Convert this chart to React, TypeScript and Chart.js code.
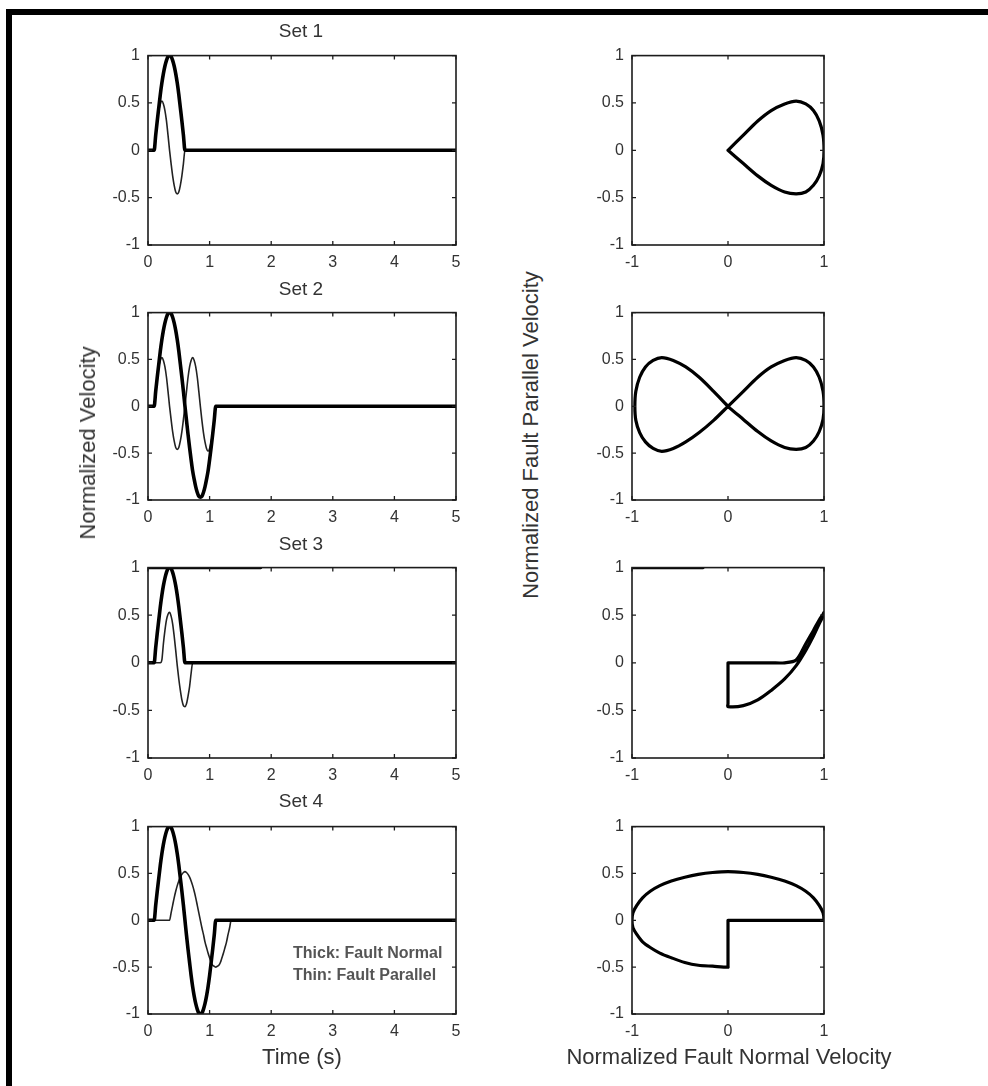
import React, { useEffect, useRef } from "react";
import { Chart, registerables } from "chart.js";

Chart.register(...registerables);

const FONT = '"Liberation Sans", Arial, Helvetica, sans-serif';

// ---------- tick labels ----------
const timeTicks = [0, 1, 2, 3, 4, 5];
const velocityTicks = [-1, -0.5, 0, 0.5, 1];
const normalTicks = [-1, 0, 1];

// ---------- Set 1 ----------
const set1Time = [0, 0.1, 0.125, 0.15, 0.175, 0.2, 0.225, 0.25, 0.275, 0.3, 0.325, 0.35, 0.375, 0.4, 0.425, 0.45, 0.475, 0.5, 0.525, 0.55, 0.575, 0.6, 5];
const set1Normal = [0, 0, 0.16, 0.31, 0.45, 0.59, 0.71, 0.81, 0.89, 0.95, 0.99, 1, 0.99, 0.95, 0.89, 0.81, 0.71, 0.59, 0.45, 0.31, 0.16, 0, 0];
const set1Parallel = [0, 0, 0.16, 0.31, 0.42, 0.49, 0.52, 0.49, 0.42, 0.31, 0.16, 0, -0.14, -0.27, -0.37, -0.44, -0.46, -0.44, -0.37, -0.27, -0.14, 0, 0];

// ---------- Set 2 ----------
const set2Time = [0, 0.1, 0.125, 0.15, 0.175, 0.2, 0.225, 0.25, 0.275, 0.3, 0.325, 0.35, 0.375, 0.4, 0.425, 0.45, 0.475, 0.5, 0.525, 0.55, 0.575, 0.6, 0.625, 0.65, 0.675, 0.7, 0.725, 0.75, 0.775, 0.8, 0.825, 0.85, 0.875, 0.9, 0.925, 0.95, 0.975, 1.0, 1.025, 1.05, 1.075, 1.1, 5];
const set2Normal = [0, 0, 0.16, 0.31, 0.45, 0.59, 0.71, 0.81, 0.89, 0.95, 0.99, 1, 0.99, 0.95, 0.89, 0.81, 0.71, 0.59, 0.45, 0.31, 0.16, 0, -0.15, -0.3, -0.44, -0.57, -0.69, -0.78, -0.86, -0.92, -0.96, -0.97, -0.96, -0.92, -0.86, -0.78, -0.69, -0.57, -0.44, -0.3, -0.15, 0, 0];
const set2Parallel = [0, 0, 0.16, 0.31, 0.42, 0.49, 0.52, 0.49, 0.42, 0.31, 0.16, 0, -0.14, -0.27, -0.37, -0.44, -0.46, -0.44, -0.37, -0.27, -0.14, 0, 0.16, 0.31, 0.42, 0.49, 0.52, 0.49, 0.42, 0.31, 0.16, 0, -0.15, -0.28, -0.38, -0.45, -0.48, -0.45, -0.38, -0.28, -0.15, 0, 0];

// ---------- Set 3 ----------
const set3Time = [0, 0.1, 0.125, 0.15, 0.175, 0.2, 0.225, 0.25, 0.275, 0.3, 0.325, 0.35, 0.375, 0.4, 0.425, 0.45, 0.475, 0.5, 0.525, 0.55, 0.575, 0.6, 0.625, 0.65, 0.675, 0.7, 0.725, 5];
const set3Normal = [0, 0, 0.16, 0.31, 0.45, 0.59, 0.71, 0.81, 0.89, 0.95, 0.99, 1, 0.99, 0.95, 0.89, 0.81, 0.71, 0.59, 0.45, 0.31, 0.16, 0, 0, 0, 0, 0, 0, 0];
const set3Parallel = [0, 0, 0, 0, 0, 0, 0.03, 0.2, 0.34, 0.45, 0.51, 0.53, 0.49, 0.41, 0.28, 0.13, -0.03, -0.17, -0.29, -0.39, -0.45, -0.46, -0.43, -0.35, -0.25, -0.11, 0, 0];
// thick stroke lying on the top edge of the Set 3 axes
const set3EdgeTime = [0, 1.83];
const set3EdgeNormal = [-1, -0.26];
const set3EdgeLevel = [1, 1];

// ---------- Set 4 ----------
const set4Time = [0, 0.1, 0.125, 0.15, 0.175, 0.2, 0.225, 0.25, 0.275, 0.3, 0.325, 0.35, 0.375, 0.4, 0.425, 0.45, 0.475, 0.5, 0.525, 0.55, 0.575, 0.6, 0.625, 0.65, 0.675, 0.7, 0.725, 0.75, 0.775, 0.8, 0.825, 0.85, 0.875, 0.9, 0.925, 0.95, 0.975, 1.0, 1.025, 1.05, 1.075, 1.1, 1.125, 1.15, 1.175, 1.2, 1.225, 1.25, 1.275, 1.3, 1.325, 1.35, 5];
const set4Normal = [0, 0, 0.16, 0.31, 0.45, 0.59, 0.71, 0.81, 0.89, 0.95, 0.99, 1, 0.99, 0.95, 0.89, 0.81, 0.71, 0.59, 0.45, 0.31, 0.16, 0, -0.16, -0.31, -0.45, -0.59, -0.71, -0.81, -0.89, -0.95, -0.99, -1, -0.99, -0.95, -0.89, -0.81, -0.71, -0.59, -0.45, -0.31, -0.16, 0, 0, 0, 0, 0, 0, 0, 0, 0, 0, 0, 0];
const set4Parallel = [0, 0, 0, 0, 0, 0, 0, 0, 0, 0, 0, 0, 0.08, 0.16, 0.24, 0.31, 0.37, 0.42, 0.46, 0.49, 0.51, 0.52, 0.51, 0.49, 0.46, 0.42, 0.37, 0.31, 0.24, 0.16, 0.08, 0, -0.08, -0.15, -0.23, -0.29, -0.35, -0.4, -0.45, -0.48, -0.49, -0.5, -0.49, -0.48, -0.45, -0.4, -0.35, -0.29, -0.23, -0.15, -0.08, 0, 0];

// ---------- helpers ----------
const THICK = "#000000";
const THIN = "#222222";

function series(xs: number[], ys: number[], width: number, color: string, smooth: "time" | "loop") {
  return {
    data: xs.map((x, i) => ({ x, y: ys[i] })),
    showLine: true,
    borderColor: color,
    backgroundColor: color,
    borderWidth: width,
    pointRadius: 0,
    pointHoverRadius: 0,
    fill: false,
    tension: smooth === "loop" ? 0.3 : 0,
    cubicInterpolationMode: smooth === "time" ? "monotone" : "default",
    borderJoinStyle: "round",
    borderCapStyle: "round",
  };
}

const matlabBox = {
  id: "matlabBox",
  afterDatasetsDraw(chart: any) {
    const { ctx, chartArea: a, scales } = chart;
    ctx.save();
    ctx.strokeStyle = "#1c1c1c";
    ctx.lineWidth = 1.6;
    ctx.strokeRect(a.left, a.top, a.right - a.left, a.bottom - a.top);
    const L = 4;
    ctx.lineWidth = 1.3;
    ctx.beginPath();
    scales.x.ticks.forEach((t: any) => {
      const px = scales.x.getPixelForValue(t.value);
      ctx.moveTo(px, a.bottom);
      ctx.lineTo(px, a.bottom - L);
      ctx.moveTo(px, a.top);
      ctx.lineTo(px, a.top + L);
    });
    scales.y.ticks.forEach((t: any) => {
      const py = scales.y.getPixelForValue(t.value);
      ctx.moveTo(a.left, py);
      ctx.lineTo(a.left + L, py);
      ctx.moveTo(a.right, py);
      ctx.lineTo(a.right - L, py);
    });
    ctx.stroke();
    ctx.restore();
  },
};

const ML = 80;
const MT = 14;
const MR = 18;
const MB = 40;

type PanelProps = {
  left: number;
  top: number;
  right: number;
  bottom: number;
  xMin: number;
  xMax: number;
  xTicks: number[];
  datasets: any[];
};

function Panel({ left, top, right, bottom, xMin, xMax, xTicks, datasets }: PanelProps) {
  const ref = useRef<HTMLCanvasElement>(null);
  const w = right - left + ML + MR;
  const h = bottom - top + MT + MB;
  useEffect(() => {
    const tickFont = { family: FONT, size: 16 };
    const chart = new Chart(ref.current as HTMLCanvasElement, {
      type: "scatter",
      data: { datasets },
      options: {
        animation: false,
        responsive: false,
        maintainAspectRatio: false,
        events: [],
        layout: { padding: { left: 0, top: MT, right: MR, bottom: 0 } },
        plugins: { legend: { display: false }, tooltip: { enabled: false }, title: { display: false } },
        scales: {
          x: {
            type: "linear",
            min: xMin,
            max: xMax,
            grid: { display: false, drawTicks: false },
            border: { display: false },
            afterBuildTicks: (s: any) => {
              s.ticks = xTicks.map((v) => ({ value: v }));
            },
            afterFit: (s: any) => {
              s.height = MB;
            },
            ticks: {
              font: tickFont,
              color: "#333",
              padding: 8,
              maxRotation: 0,
              autoSkip: false,
              callback: (v: any) => String(v),
            },
          },
          y: {
            type: "linear",
            min: -1,
            max: 1,
            grid: { display: false, drawTicks: false },
            border: { display: false },
            afterBuildTicks: (s: any) => {
              s.ticks = velocityTicks.map((v) => ({ value: v }));
            },
            afterFit: (s: any) => {
              s.width = ML;
            },
            ticks: {
              font: tickFont,
              color: "#333",
              padding: 8,
              autoSkip: false,
              callback: (v: any) => String(v),
            },
          },
        },
      } as any,
      plugins: [matlabBox],
    } as any);
    return () => chart.destroy();
  }, []);
  return (
    <canvas
      ref={ref}
      width={w}
      height={h}
      style={{ position: "absolute", left: left - ML, top: top - MT, width: w, height: h }}
    />
  );
}

const rowTops = [52, 309, 564, 823];
const rowBottoms = [245, 500, 758, 1014];
const setTitles = ["Set 1", "Set 2", "Set 3", "Set 4"];
const titleCenters = [30, 288, 543, 800];

function Label({ x, y, text, size, rotate, weight }: { x: number; y: number; text: string; size: number; rotate?: boolean; weight?: string }) {
  return (
    <div
      style={{
        position: "absolute",
        left: x,
        top: y,
        transform: `translate(-50%, -50%)${rotate ? " rotate(-90deg)" : ""}`,
        fontFamily: FONT,
        fontSize: size,
        fontWeight: weight || "normal",
        color: "#333",
        lineHeight: 1,
        whiteSpace: "nowrap",
      }}
    >
      {text}
    </div>
  );
}

export default function App() {
  const timeSets = [
    [series(set1Time, set1Normal, 3.6, THICK, "time"), series(set1Time, set1Parallel, 1.6, THIN, "time")],
    [series(set2Time, set2Normal, 3.6, THICK, "time"), series(set2Time, set2Parallel, 1.6, THIN, "time")],
    [
      series(set3Time, set3Normal, 3.6, THICK, "time"),
      series(set3Time, set3Parallel, 1.6, THIN, "time"),
      series(set3EdgeTime, set3EdgeLevel, 3.2, THICK, "time"),
    ],
    [series(set4Time, set4Normal, 3.6, THICK, "time"), series(set4Time, set4Parallel, 1.6, THIN, "time")],
  ];
  const loopSets = [
    [series(set1Normal, set1Parallel, 3.2, THICK, "loop")],
    [series(set2Normal, set2Parallel, 3.2, THICK, "loop")],
    [series(set3Normal, set3Parallel, 3.2, THICK, "loop"), series(set3EdgeNormal, set3EdgeLevel, 3.2, THICK, "loop")],
    [series(set4Normal, set4Parallel, 3.2, THICK, "loop")],
  ];
  return (
    <div
      style={{
        position: "absolute",
        left: 0,
        top: 0,
        width: 988,
        height: 1086,
        background: "#fff",
        overflow: "hidden",
      }}
    >
      <div style={{ position: "absolute", left: 6, top: 9, width: 982, height: 6, background: "#000" }} />
      <div style={{ position: "absolute", left: 6, top: 9, width: 6, height: 1077, background: "#000" }} />

      {rowTops.map((t, i) => (
        <Panel
          key={"l" + i}
          left={148}
          top={t}
          right={456}
          bottom={rowBottoms[i]}
          xMin={0}
          xMax={5}
          xTicks={timeTicks}
          datasets={timeSets[i]}
        />
      ))}
      {rowTops.map((t, i) => (
        <Panel
          key={"r" + i}
          left={632}
          top={t}
          right={824}
          bottom={rowBottoms[i]}
          xMin={-1}
          xMax={1}
          xTicks={normalTicks}
          datasets={loopSets[i]}
        />
      ))}

      {setTitles.map((s, i) => (
        <Label key={s} x={301} y={titleCenters[i]} text={s} size={19} />
      ))}

      <Label x={88} y={443} text="Normalized Velocity" size={22} rotate />
      <Label x={531} y={435} text="Normalized Fault Parallel Velocity" size={22} rotate />
      <Label x={302} y={1057} text="Time (s)" size={22} />
      <Label x={729} y={1057} text="Normalized Fault Normal Velocity" size={22} />

      <div
        style={{
          position: "absolute",
          left: 293,
          top: 942,
          fontFamily: FONT,
          fontSize: 16,
          fontWeight: "bold",
          color: "#555",
          lineHeight: "22px",
          whiteSpace: "nowrap",
        }}
      >
        <div>Thick: Fault Normal</div>
        <div>Thin: Fault Parallel</div>
      </div>
    </div>
  );
}
